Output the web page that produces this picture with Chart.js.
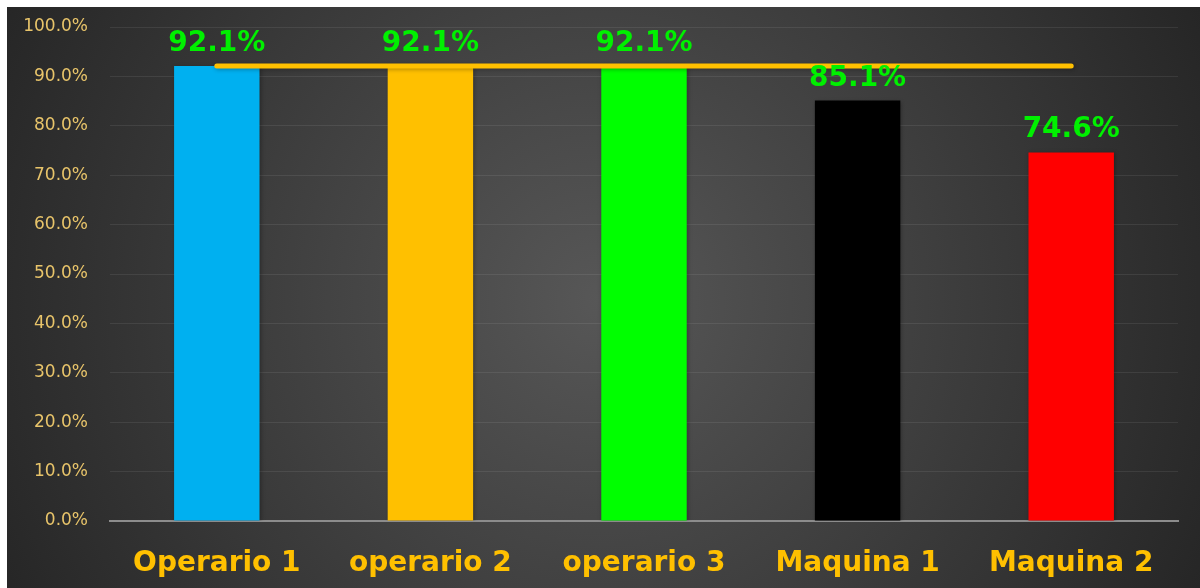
<!DOCTYPE html>
<html>
<head>
<meta charset="utf-8">
<script src="https://cdn.jsdelivr.net/npm/chart.js@4/dist/chart.umd.min.js"></script>
<style>
  html, body { margin: 0; padding: 0; background: #fff; }
  #wrap { position: absolute; left: 0; top: 0; width: 1200px; height: 588px; }
</style>
</head>
<body>
<div id="wrap"><canvas id="barChart" width="1200" height="588"></canvas></div>
<script>
// --- Data ---
const categories = ["Operario 1", "operario 2", "operario 3", "Maquina 1", "Maquina 2"];
const efficiency = [92.1, 92.1, 92.1, 85.1, 74.6];
const target = [92.1, 92.1, 92.1, 92.1, 92.1];
const barColors = ["#00b0f0", "#ffc000", "#00ff00", "#000000", "#ff0000"];

// --- Background (white margin + dark radial panel) ---
const bgPlugin = {
  id: "bg",
  beforeDraw(chart) {
    const ctx = chart.ctx;
    ctx.save();
    ctx.fillStyle = "#ffffff";
    ctx.fillRect(0, 0, chart.width, chart.height);
    const g = ctx.createRadialGradient(600, 300, 0, 600, 300, 680);
    g.addColorStop(0, "#575757");
    g.addColorStop(1, "#252525");
    ctx.fillStyle = g;
    ctx.fillRect(7, 7, chart.width - 7, chart.height - 7);
    ctx.restore();
  }
};

// --- Soft shadow under bars and line ---
const shadowPlugin = {
  id: "shadow",
  beforeDatasetDraw(chart) {
    const ctx = chart.ctx;
    ctx.save();
    ctx.shadowColor = "rgba(0,0,0,0.3)";
    ctx.shadowBlur = 4;
    ctx.shadowOffsetX = 1;
    ctx.shadowOffsetY = 1;
  },
  afterDatasetDraw(chart) {
    chart.ctx.restore();
  }
};

// --- Value labels above bars ---
const labelPlugin = {
  id: "valueLabels",
  afterDatasetsDraw(chart) {
    const ctx = chart.ctx;
    const meta = chart.getDatasetMeta(1);
    ctx.save();
    ctx.font = "bold 28px 'DejaVu Sans'";
    ctx.fillStyle = "#00f000";
    ctx.textAlign = "center";
    ctx.textBaseline = "alphabetic";
    meta.data.forEach((bar, i) => {
      ctx.fillText(efficiency[i].toFixed(1) + "%", bar.x, bar.y - 15);
    });
    ctx.restore();
  }
};

const canvas = document.getElementById("barChart");
new Chart(canvas, {
  data: {
    labels: categories,
    datasets: [
      {
        type: "line",
        label: "Meta",
        data: target,
        borderColor: "#ffc000",
        borderWidth: 5,
        borderCapStyle: "round",
        pointRadius: 0,
        order: 0
      },
      {
        type: "bar",
        label: "Eficiencia",
        data: efficiency,
        backgroundColor: barColors,
        barPercentage: 0.4,
        categoryPercentage: 1,
        order: 1
      }
    ]
  },
  options: {
    responsive: false,
    animation: false,
    layout: { padding: { left: 7, right: 22, top: 27, bottom: 0 } },
    plugins: {
      legend: { display: false },
      tooltip: { enabled: false }
    },
    scales: {
      x: {
        grid: { display: false },
        border: { display: true, color: "#8c8c8c", width: 2 },
        ticks: {
          color: "#ffc000",
          font: { family: "DejaVu Sans", size: 28, weight: "bold" },
          padding: 18,
          maxRotation: 0
        },
        afterFit(scale) { scale.height = 67; }
      },
      y: {
        min: 0,
        max: 100,
        ticks: {
          stepSize: 10,
          color: "#e8c46a",
          font: { family: "DejaVu Sans", size: 17 },
          padding: 22,
          callback: v => v.toFixed(1) + "%"
        },
        grid: { color: "rgba(255,255,255,0.08)", lineWidth: 1, drawTicks: false },
        border: { display: false },
        afterFit(scale) {
          scale.width = 103;
          // tick padding would otherwise push the plot top down
          scale.paddingTop = 10;
          scale.paddingBottom = 10;
        }
      }
    }
  },
  plugins: [bgPlugin, shadowPlugin, labelPlugin]
});
</script>
</body>
</html>
